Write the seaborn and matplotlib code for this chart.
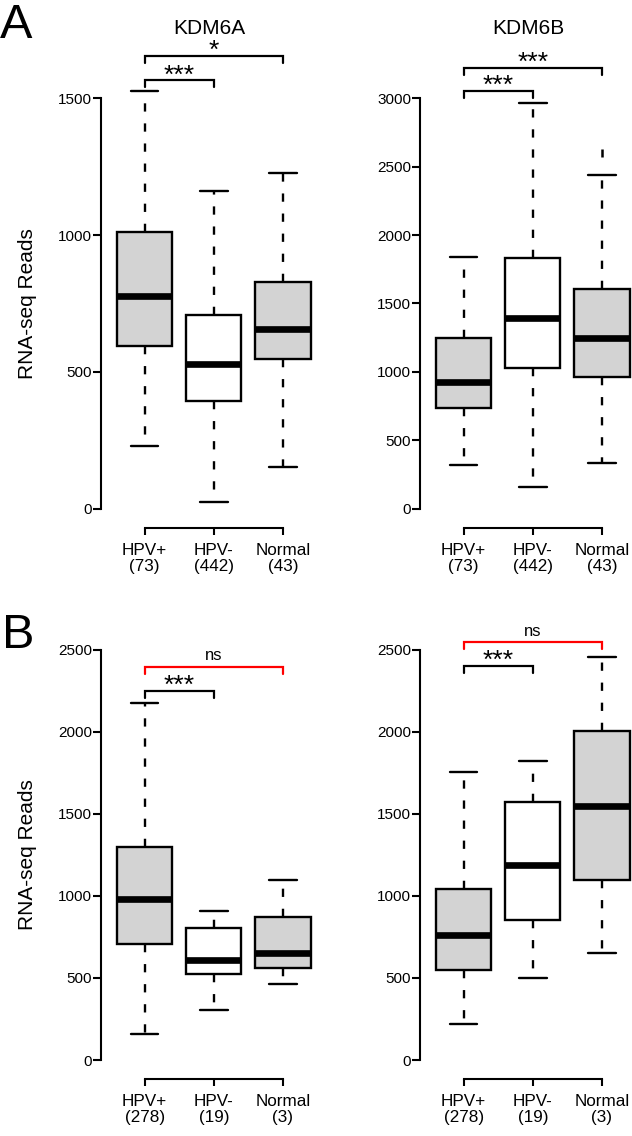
import numpy as np
import pandas as pd
import matplotlib
matplotlib.use("Agg")
import matplotlib.pyplot as plt
import seaborn as sns

# === DATOS ===
groups = ["HPV+", "HPV-", "Normal"]
n_a = ["(73)", "(442)", "(43)"]
n_b = ["(278)", "(19)", "(3)"]

# cinco numeros por grupo: minimo, Q1, mediana, Q3, maximo
a_kdm6a_hpvpos = [230, 593, 779, 1012, 1528]
a_kdm6a_hpvneg = [25, 395, 527, 707, 1160]
a_kdm6a_normal = [152, 547, 656, 828, 1227]

a_kdm6b_hpvpos = [318, 734, 929, 1244, 1838]
a_kdm6b_hpvneg = [161, 1026, 1396, 1833, 2965]
a_kdm6b_normal = [336, 963, 1250, 1604, 2436]
a_kdm6b_outliers = [("Normal", 2600)]

b_kdm6a_hpvpos = [160, 705, 983, 1295, 2174]
b_kdm6a_hpvneg = [306, 525, 612, 801, 908]
b_kdm6a_normal = [462, 558, 652, 873, 1094]

b_kdm6b_hpvpos = [217, 551, 763, 1042, 1757]
b_kdm6b_hpvneg = [502, 853, 1187, 1571, 1819]
b_kdm6b_normal = [652, 1098, 1549, 2002, 2455]

# brackets: (grupo 1, grupo 2, altura, etiqueta, color)
a_kdm6a_sig = [(0, 1, 1565, "***", "black"), (0, 2, 1655, "*", "black")]
a_kdm6b_sig = [(0, 1, 3052, "***", "black"), (0, 2, 3221, "***", "black")]
b_kdm6a_sig = [(0, 1, 2250, "***", "black"), (0, 2, 2395, "ns", "red")]
b_kdm6b_sig = [(0, 1, 2399, "***", "black"), (0, 2, 2545, "ns", "red")]

fills = {"HPV+": "#d3d3d3", "HPV-": "white", "Normal": "#d3d3d3"}

# === ESTILO ===
sns.set_style("ticks")
plt.rcParams["font.family"] = ["Liberation Sans", "DejaVu Sans"]
for key in ["text.color", "axes.labelcolor", "xtick.color", "ytick.color",
            "axes.edgecolor"]:
    plt.rcParams[key] = "black"

W, H = 632, 1136
fig = plt.figure(figsize=(W / 100, H / 100), dpi=100)

SPACING = 69.2   # px entre categorias
X_LO, X_HI = -0.63, 2.5


def make_frame(hpvpos, hpvneg, normal):
    values = np.concatenate([hpvpos, hpvneg, normal])
    return pd.DataFrame({"group": np.repeat(groups, 5), "reads": values})


def panel(left_px, zero_px, top_tick, ymax, df, n_labels, sig,
          title=None, ylabel=False, outliers=()):
    px_per_unit = 410.5 / top_tick
    width = (X_HI - X_LO) * SPACING
    height = ymax * px_per_unit
    ax = fig.add_axes([left_px / W, (H - zero_px) / H, width / W, height / H])

    sns.boxplot(
        data=df, x="group", y="reads", hue="group", order=groups,
        hue_order=groups, palette=fills, saturation=1, width=0.8,
        whis=(0, 100), linecolor="black", linewidth=1.7, legend=False,
        medianprops={"linewidth": 4.8, "solid_capstyle": "butt"},
        whiskerprops={"linestyle": (0, (3.5, 5))},
        showfliers=False, ax=ax,
    )
    for g, v in outliers:
        ax.plot(groups.index(g), v, marker="|", ms=6, mew=1.8,
                color="black", clip_on=False)

    ax.set_xlim(X_LO, X_HI)
    ax.set_ylim(0, ymax)
    ax.set_xlabel("")
    ax.set_ylabel("")

    # ejes estilo R
    for s in ["top", "right"]:
        ax.spines[s].set_visible(False)
    ax.spines["left"].set_bounds(0, top_tick)
    ax.spines["bottom"].set_bounds(0, 2)
    ax.spines["bottom"].set_position(("outward", 13.7))
    for s in ["left", "bottom"]:
        ax.spines[s].set_linewidth(1.5)

    ax.set_yticks(np.arange(0, top_tick + 1, 500))
    ax.set_xticks([0, 1, 2])
    ax.set_xticklabels([f"{g}\n{n}" for g, n in zip(groups, n_labels)])
    for t in ax.get_xticklabels():
        t.set_linespacing(1.05)
    ax.tick_params(axis="y", length=5.5, width=1.5, pad=1, labelsize=11)
    ax.tick_params(axis="x", length=5, width=1.5, pad=6, labelsize=12.3)

    # brackets de significancia
    drop = 7 / px_per_unit
    for x1, x2, y, label, color in sig:
        ax.plot([x1, x1, x2, x2], [y - drop, y, y, y - drop], color=color,
                lw=1.6, clip_on=False, solid_joinstyle="miter")
        if label == "ns":
            ax.annotate(label, xy=((x1 + x2) / 2, y), xytext=(0, 4.5),
                        textcoords="offset points", ha="center",
                        va="baseline", fontsize=12)
        else:
            ax.annotate(label, xy=((x1 + x2) / 2, y), xytext=(0, -1.5),
                        textcoords="offset points", ha="center",
                        va="baseline", fontsize=19)

    if title:
        ax.set_title(title, fontsize=15, y=(zero_px - 33.5) / height, pad=0)
    if ylabel:
        ax.set_ylabel("RNA-seq Reads", fontsize=15)
        mid_px = zero_px - top_tick * px_per_unit / 2
        ax.yaxis.set_label_coords((37 - left_px) / width,
                                  (zero_px - mid_px) / height)
    return ax


panel(101, 508.7, 1500, 1700,
      make_frame(a_kdm6a_hpvpos, a_kdm6a_hpvneg, a_kdm6a_normal),
      n_a, a_kdm6a_sig, title="KDM6A", ylabel=True)
panel(420, 508.7, 3000, 3300,
      make_frame(a_kdm6b_hpvpos, a_kdm6b_hpvneg, a_kdm6b_normal),
      n_a, a_kdm6b_sig, title="KDM6B", outliers=a_kdm6b_outliers)
panel(101, 1060, 2500, 2620,
      make_frame(b_kdm6a_hpvpos, b_kdm6a_hpvneg, b_kdm6a_normal),
      n_b, b_kdm6a_sig, ylabel=True)
panel(420, 1060, 2500, 2620,
      make_frame(b_kdm6b_hpvpos, b_kdm6b_hpvneg, b_kdm6b_normal),
      n_b, b_kdm6b_sig)

fig.text(0, 1 - 37.5 / H, "A", fontsize=35, ha="left", va="baseline")
fig.text(2 / W, 1 - 648 / H, "B", fontsize=35, ha="left", va="baseline")

fig.savefig("out.png", dpi=100)
